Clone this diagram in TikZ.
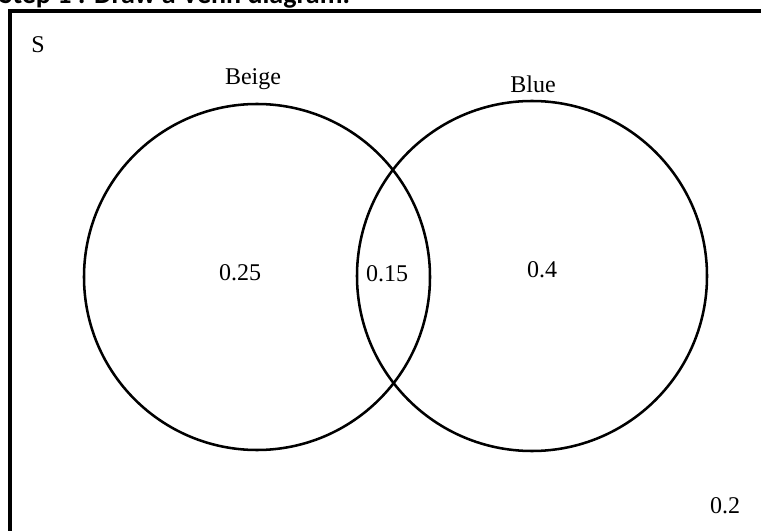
\documentclass[tikz,border=0pt]{standalone}
\usepackage{fontspec}
\setmainfont{Liberation Serif}
\newfontfamily\titlefont{Carlito}
\usetikzlibrary{positioning}

\begin{document}
\begin{tikzpicture}[
    x=0.75pt, y=-0.75pt,
    setcircle/.style={draw=black, line width=1.9pt},
    setlabel/.style={font=\fontsize{18}{20}\selectfont, inner sep=0pt},
    prob/.style={font=\fontsize{18}{20}\selectfont, inner sep=0pt}
]
\clip (0,0) rectangle (761,531);

% title, cut off at the top edge as in the reference
\node[anchor=base west, inner sep=0pt, font=\titlefont\bfseries\fontsize{21}{24}\selectfont]
    (title) at (-1,4) {Step 1 : Draw a Venn diagram.};

% sample space
\draw[line width=2.3pt] (10,790) -- (10,11) -- (790,11);
\node[setlabel] (space) at (38,45) {S};

% the two sets
\draw[setcircle] (257,277) circle (173);
\draw[setcircle] (532,276) circle (175);
\node[setlabel] (beige) at (253,79) {Beige};
\node[setlabel] (blue) at (533,84) {Blue};

% probabilities
\node[prob] (onlybeige) at (240,273) {0.25};
\node[prob] (both) at (387,274) {0.15};
\node[prob] (onlyblue) at (542,270) {0.4};
\node[prob] (neither) at (725,506) {0.2};
\end{tikzpicture}
\end{document}
